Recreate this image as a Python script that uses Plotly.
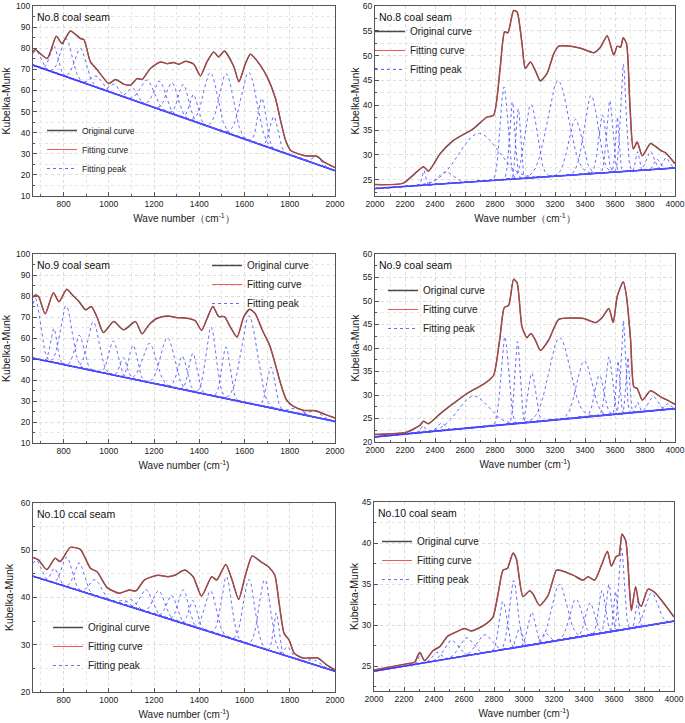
import numpy as np
import plotly.graph_objects as go

W, H = 685, 723

# ---------- No.8 coal seam, 650-2000 ----------
p1_env_x = [665, 675, 727, 768, 793, 830, 875, 890, 919, 948, 1000, 1030, 1066, 1096, 1125, 1147,
            1184, 1228, 1258, 1287, 1310, 1339, 1376, 1405, 1434, 1464, 1486, 1511, 1553, 1575,
            1604, 1626, 1670, 1700, 1737, 1759, 1781, 1803, 1832, 1855, 1877, 1920, 1950, 2000]
p1_env_y = [78.2, 79.4, 75.1, 85.7, 82.2, 88.2, 84.6, 84.1, 73.5, 69.9, 63.3, 65.2, 63.0, 62.5, 65.6, 65.2,
            70.4, 73.5, 72.7, 73.2, 72.4, 73.8, 72.4, 66.9, 73.5, 78.2, 75.9, 78.7, 71.2, 64.1,
            72.7, 77.1, 71.9, 66.4, 56.2, 45.9, 36.5, 31.7, 30.2, 29.4, 28.9, 28.9, 26.2, 23.5]
p1_base = [72.0, 22.0]
p1_centers = [680, 757, 812, 875, 945, 1025, 1105, 1170, 1225, 1280, 1330, 1375, 1450, 1520, 1620, 1677, 1730, 1920]
p1_heights = [7.3, 12.6, 18.0, 15.7, 5.3, 4.4, 5.7, 11.8, 13.4, 14.6, 15.7, 12.6, 25.9, 27.9, 32.2, 22.2, 15.5, 3.6]
p1_widths = [20, 18, 25, 25, 25, 20, 20, 30, 25, 25, 22, 18, 30, 30, 35, 18, 18, 20]

# ---------- No.8 coal seam, 2000-4000 ----------
p2_env_x = [2000, 2189, 2323, 2356, 2434, 2523, 2657, 2746, 2791, 2835, 2864, 2886, 2924, 2947, 2980,
            3002, 3036, 3069, 3102, 3147, 3192, 3225, 3303, 3370, 3459, 3503, 3548, 3592, 3615, 3637,
            3655, 3677, 3699, 3722, 3748, 3782, 3837, 3904, 3938, 4000]
p2_env_y = [24.0, 24.3, 27.6, 26.7, 30.2, 32.9, 35.3, 37.6, 38.0, 47.7, 54.8, 54.6, 59.1, 58.8, 52.4,
            47.4, 48.7, 47.0, 44.9, 46.4, 50.4, 51.9, 51.9, 51.5, 50.6, 51.7, 54.0, 50.1, 51.9, 51.7,
            53.6, 52.4, 40.3, 31.2, 32.6, 29.8, 32.3, 30.9, 30.4, 28.2]
p2_base = [23.2, 27.35]
p2_centers = [2325, 2470, 2690, 2860, 2915, 2955, 3040, 3220, 3335, 3440, 3515, 3565, 3615, 3655, 3750, 3835, 3880, 3940]
p2_heights = [3.0, 2.4, 9.7, 18.7, 15.6, 14.1, 14.8, 19.2, 11.2, 15.8, 11.7, 14.5, 11.1, 21.6, 3.8, 3.7, 2.0, 2.2]
p2_widths = [12, 50, 130, 25, 18, 15, 40, 70, 45, 45, 25, 20, 12, 18, 12, 25, 20, 20]

# ---------- No.9 coal seam, 650-2000 ----------
p3_env_x = [665, 675, 690, 719, 755, 780, 814, 839, 869, 898, 923, 950, 976, 1022, 1066, 1118, 1147,
            1177, 1214, 1258, 1302, 1346, 1383, 1410, 1435, 1460, 1486, 1511, 1538, 1567, 1597, 1623,
            1648, 1678, 1712, 1737, 1759, 1785, 1817, 1863, 1914, 1959, 2000]
p3_env_y = [79.4, 80.5, 79.7, 71.5, 81.6, 77.3, 83.2, 80.5, 77.3, 73.4, 75.0, 69.4, 62.6, 67.8, 63.9, 67.8, 62.0,
            66.2, 69.4, 70.5, 69.7, 69.4, 68.2, 63.6, 69.4, 75.0, 70.2, 70.2, 65.1, 60.4, 70.2, 73.7,
            71.5, 63.9, 56.3, 47.2, 38.5, 30.6, 27.4, 25.5, 25.4, 23.5, 21.9]
p3_base = [50.4, 20.3]
p3_centers = [675, 757, 812, 870, 932, 1020, 1065, 1108, 1180, 1260, 1325, 1372, 1452, 1518, 1620, 1717, 1830, 1910]
p3_heights = [28.7, 16.2, 28.2, 15.5, 23.3, 16.2, 9.3, 16.1, 18.6, 23.1, 15.9, 18.2, 32.6, 24.5, 41.7, 19.4, 2.5, 3.0]
p3_widths = [22, 14, 25, 20, 25, 20, 15, 18, 30, 30, 20, 18, 22, 18, 35, 18, 25, 25]

# ---------- No.9 coal seam, 2000-4000 ----------
p4_env_x = [2000, 2212, 2301, 2323, 2356, 2434, 2523, 2612, 2701, 2746, 2791, 2831, 2862, 2891, 2924,
            2947, 2980, 3013, 3040, 3069, 3102, 3158, 3225, 3325, 3392, 3470, 3515, 3559, 3588, 3615,
            3655, 3677, 3704, 3726, 3748, 3782, 3837, 3904, 3949, 4000]
p4_env_y = [21.6, 22.1, 23.6, 24.4, 23.9, 26.0, 28.2, 30.3, 31.9, 32.8, 34.2, 41.7, 48.6, 49.1, 54.6,
            53.9, 44.5, 42.2, 43.1, 41.7, 39.5, 41.7, 46.1, 46.4, 46.3, 45.4, 46.5, 48.4, 45.4, 51.0,
            54.1, 50.9, 41.7, 31.7, 31.4, 28.9, 30.9, 29.6, 28.9, 28.0]
p4_base = [21.1, 27.1]
p4_centers = [2320, 2440, 2655, 2865, 2950, 3045, 3230, 3395, 3495, 3560, 3620, 3655, 3685, 3750, 3855, 3950]
p4_heights = [1.5, 1.6, 6.7, 18.7, 17.4, 10.4, 17.4, 12.0, 8.6, 12.3, 11.3, 19.8, 11.9, 2.1, 3.0, 1.2]
p4_widths = [12, 25, 100, 25, 18, 25, 70, 50, 30, 22, 12, 15, 12, 12, 30, 20]

# ---------- No.10 coal seam, 650-2000 ----------
p5_env_x = [665, 688, 726, 763, 785, 830, 874, 919, 949, 993, 1046, 1090, 1120, 1157, 1217, 1261, 1291,
            1336, 1373, 1410, 1455, 1477, 1517, 1545, 1574, 1604, 1634, 1671, 1708, 1734, 1753, 1775,
            1797, 1820, 1857, 1924, 1961, 2000]
p5_env_y = [48.5, 48.0, 45.9, 48.3, 47.6, 50.6, 50.2, 46.2, 45.4, 42.1, 40.9, 41.6, 41.4, 43.7, 44.7, 44.4, 44.7,
            45.8, 44.4, 40.3, 44.4, 43.7, 47.0, 43.7, 39.6, 44.7, 48.8, 47.6, 46.4, 44.7, 38.8, 32.4,
            31.0, 28.2, 27.2, 27.2, 25.8, 24.7]
p5_base = [44.5, 24.4]
p5_centers = [680, 760, 815, 870, 940, 1070, 1100, 1165, 1222, 1278, 1330, 1372, 1450, 1520, 1620, 1690, 1740, 1790, 1910]
p5_heights = [3.6, 3.1, 6.3, 5.9, 3.4, 1.0, 1.6, 4.7, 5.3, 5.2, 7.1, 5.5, 8.7, 12.8, 13.7, 14.7, 8.4, 2.0, 1.0]
p5_widths = [20, 15, 22, 22, 25, 20, 20, 25, 25, 22, 22, 18, 25, 22, 25, 25, 12, 15, 25]

# ---------- No.10 coal seam, 2000-4000 ----------
p6_env_x = [2000, 2216, 2271, 2304, 2338, 2393, 2438, 2493, 2538, 2604, 2649, 2693, 2749, 2793, 2827,
            2860, 2889, 2927, 2949, 2993, 3038, 3060, 3104, 3160, 3216, 3238, 3327, 3393, 3427, 3471,
            3516, 3556, 3582, 3616, 3633, 3653, 3678, 3704, 3716, 3744, 3767, 3782, 3827, 3871, 3927, 4000]
p6_env_y = [24.55, 25.3, 25.5, 26.7, 25.7, 26.9, 27.4, 28.7, 29.1, 29.6, 29.3, 29.6, 30.2, 31.0, 33.8,
            36.7, 36.9, 38.8, 38.1, 33.5, 34.2, 33.8, 32.4, 33.6, 36.7, 36.7, 36.1, 35.5, 35.9, 35.5,
            37.3, 39.0, 37.2, 38.4, 38.5, 41.1, 40.3, 34.2, 31.8, 34.7, 32.6, 32.3, 34.4, 34.0, 32.8, 31.0]
p6_base = [24.4, 30.5]
p6_centers = [2310, 2420, 2515, 2615, 2735, 2860, 2930, 2970, 3050, 3140, 3235, 3345, 3440, 3520, 3565, 3610, 3650, 3755, 3850]
p6_heights = [1.3, 1.0, 2.2, 2.2, 2.2, 5.9, 8.2, 2.3, 4.0, 1.2, 6.8, 4.7, 3.9, 5.2, 5.8, 4.8, 9.9, 3.2, 3.9]
p6_widths = [12, 30, 45, 45, 50, 25, 28, 20, 25, 25, 50, 40, 30, 22, 18, 12, 18, 12, 40]

labels = ["No.8 coal seam", "No.8 coal seam", "No.9 coal seam", "No.9 coal seam",
          "No.10 ccal seam", "No.10 coal seam"]

# panel boxes in pixels: left, right, top, bottom
boxes = [(33, 335, 6, 196), (375, 675, 6, 196),
         (33, 335, 254, 443), (375, 675, 254, 442),
         (33, 335, 503, 692), (374, 674, 502, 691)]
yranges = [(10, 100, 10), (21.7, 60, 5), (10, 100, 10), (20, 60, 5), (20, 60, 10), (22, 45, 5)]
xtitles = ["Wave number（cm<sup>-1</sup>）", "Wave number（cm<sup>-1</sup>）",
           "Wave number (cm<sup>-1</sup>)", "Wave number (cm<sup>-1</sup>)",
           "Wave number (cm<sup>-1</sup>)", "Wave number (cm<sup>-1</sup>)"]
# legend top-left corner (px) and font size
legpos = [(42, 116, 8.5), (370, 17, 10), (207, 251, 10), (383, 276, 10), (48, 613, 10), (377, 527, 10)]

panels = [
    (p1_env_x, p1_env_y, p1_base, p1_centers, p1_heights, p1_widths),
    (p2_env_x, p2_env_y, p2_base, p2_centers, p2_heights, p2_widths),
    (p3_env_x, p3_env_y, p3_base, p3_centers, p3_heights, p3_widths),
    (p4_env_x, p4_env_y, p4_base, p4_centers, p4_heights, p4_widths),
    (p5_env_x, p5_env_y, p5_base, p5_centers, p5_heights, p5_widths),
    (p6_env_x, p6_env_y, p6_base, p6_centers, p6_heights, p6_widths),
]

FONT = "Liberation Sans, Arial, sans-serif"
PEAK = "rgba(80,80,255,0.85)"

fig = go.Figure()
layout = {}
annotations = []

for i, (ex, ey, base, cen, hgt, wid) in enumerate(panels):
    n = i + 1
    xa = "x" if n == 1 else f"x{n}"
    ya = "y" if n == 1 else f"y{n}"
    leg = "legend" if n == 1 else f"legend{n}"
    lo, hi = (665, 2000) if i % 2 == 0 else (2000, 4000)
    xs = np.arange(lo, hi + 1, 2)
    bl = np.interp(xs, [lo, hi], base)

    fig.add_trace(go.Scatter(x=[lo, hi], y=base, mode="lines", xaxis=xa, yaxis=ya,
                             line=dict(color="rgb(40,40,255)", width=1.6),
                             showlegend=False, hoverinfo="skip"))
    for k, (c, h, w) in enumerate(zip(cen, hgt, wid)):
        fig.add_trace(go.Scatter(x=xs, y=bl + h * np.exp(-(xs - c) ** 2 / (2 * w ** 2)),
                                 mode="lines", xaxis=xa, yaxis=ya, legend=leg,
                                 line=dict(color=PEAK, width=1, dash="dot"),
                                 name="Fitting peak", legendrank=3, showlegend=(k == 0)))
    fig.add_trace(go.Scatter(x=ex, y=ey, mode="lines", xaxis=xa, yaxis=ya, legend=leg,
                             line=dict(color="#4a4a4a", width=1.5, shape="spline", smoothing=0.6),
                             name="Original curve", legendrank=1))
    fig.add_trace(go.Scatter(x=ex, y=ey, mode="lines", xaxis=xa, yaxis=ya, legend=leg,
                             line=dict(color="rgba(235,60,60,0.85)", width=1.0, shape="spline", smoothing=0.6),
                             name="Fitting curve", legendrank=2))

    l, r, t, b = boxes[i]
    y0, y1, dt = yranges[i]
    common = dict(showline=True, linecolor="#555", linewidth=1, mirror=True,
                  ticks="inside", ticklen=4, tickcolor="#555",
                  showgrid=True, gridcolor="#dcdcdc", griddash="dot", zeroline=False,
                  ticklabeloverflow="allow",
                  tickfont=dict(size=8.5, color="#222", family=FONT))
    layout["xaxis" if n == 1 else f"xaxis{n}"] = dict(
        common, domain=[l / W, r / W], anchor=ya, range=[lo, hi], dtick=200, tick0=0,
        minor=dict(dtick=100, ticks="inside", ticklen=2, tickcolor="#555",
                   showgrid=True, gridcolor="#e6e6e6", griddash="dot"),
        title=dict(text=xtitles[i], font=dict(size=10, color="#222", family=FONT), standoff=6))
    layout["yaxis" if n == 1 else f"yaxis{n}"] = dict(
        common, domain=[1 - b / H, 1 - t / H], anchor=xa, range=[y0, y1], dtick=dt, tick0=0,
        minor=dict(dtick=dt / 2, ticks="inside", ticklen=2, tickcolor="#555",
                   showgrid=True, gridcolor="#e6e6e6", griddash="dot"),
        title=dict(text="Kubelka-Munk", font=dict(size=10.5, color="#222", family=FONT),
                   standoff=5 if i % 2 == 0 else 1))
    lx, ly, lf = legpos[i]
    layout[leg] = dict(x=lx / W, y=1 - ly / H, xref="paper", yref="paper",
                       xanchor="left", yanchor="top", bgcolor="rgba(0,0,0,0)",
                       font=dict(size=lf, color="#222", family=FONT),
                       itemwidth=30, traceorder="normal")
    annotations.append(dict(text=labels[i], x=(l + 2) / W, y=1 - (t + 3) / H,
                            xref="paper", yref="paper", xanchor="left", yanchor="top",
                            showarrow=False, font=dict(size=10.5, color="#111", family=FONT)))

fig.update_layout(**layout)
fig.update_layout(width=W, height=H, margin=dict(l=0, r=0, t=0, b=0, autoexpand=False),
                  paper_bgcolor="white", plot_bgcolor="white",
                  annotations=annotations, font=dict(family=FONT))
fig.write_html("out.html", config={"displayModeBar": False},
               post_script="document.body.style.margin='0';")
